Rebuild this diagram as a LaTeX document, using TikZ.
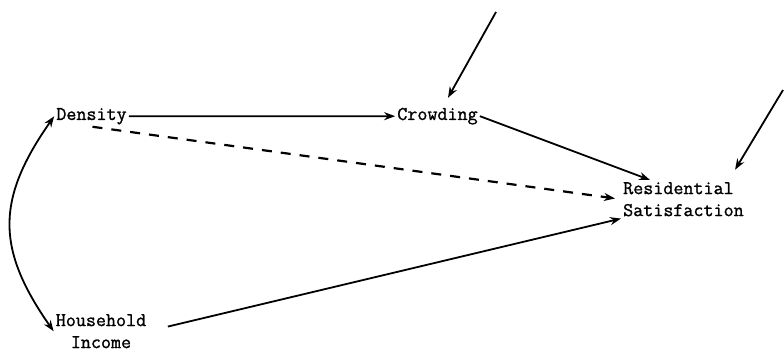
\documentclass[tikz,border=0pt]{standalone}
\usepackage{fontspec}
\newfontfamily\typerfont[FakeBold=1.2]{Latin Modern Mono}
\usetikzlibrary{arrows.meta}
\begin{document}
\begin{tikzpicture}[x=1pt, y=1pt,
    var/.style={font=\typerfont\fontsize{19.5}{22}\selectfont, inner sep=2pt},
    path/.style={line width=1.8pt, -{Stealth[length=11pt, width=8pt]}}]
    \useasboundingbox (0,0) rectangle (784,351);
    % variables
    \node[var, anchor=base] (den) at (91.5,231) {Density};
    \node[var, anchor=base] (crowd) at (437.5,231) {Crowding};
    \node[var, anchor=north west, align=left] (res) at (621,171) {Residential\\Satisfaction};
    \node[var, anchor=north, align=center] (inc) at (101,39) {Household\\Income};
    % disturbance terms
    \coordinate (u1) at (496,339);
    \coordinate (u2) at (783,261);
    % paths
    \draw[path] (den) -- (crowd);
    \draw[path] (crowd.east) -- (res.150);
    \draw[path, dash pattern=on 10pt off 9pt, line width=2.2pt, shorten <=1pt, shorten >=6pt] (den.south) -- (res.west);
    \draw[path, shorten <=20pt] (inc.east) -- (res.south west);
    \draw[path, shorten >=9pt] (u1) -- (crowd.60);
    \draw[path, shorten >=12pt] (u2) -- (res.23);
    % correlation
    \draw[line width=1.8pt, {Stealth[length=11pt, width=8pt]}-{Stealth[length=11pt, width=8pt]}]
        (den.west) to[out=235, in=125, looseness=1.2] (inc.west);
\end{tikzpicture}
\end{document}
